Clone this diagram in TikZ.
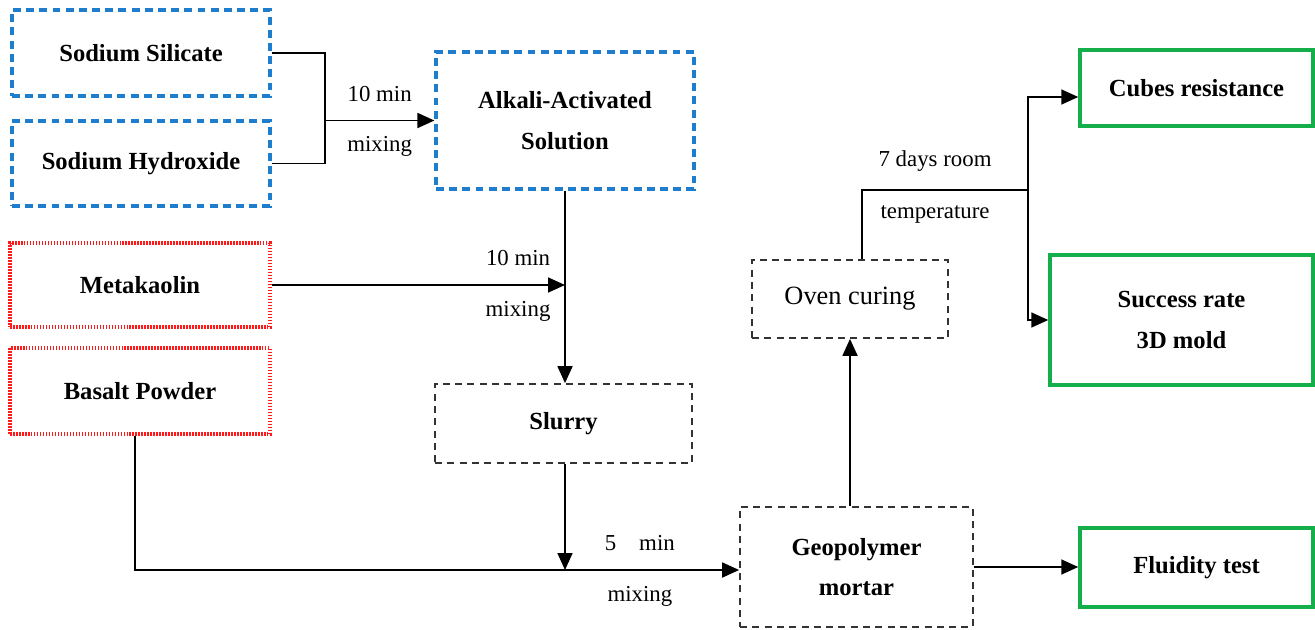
\documentclass[tikz,border=0pt]{standalone}
\usepackage{fontspec}
\setmainfont{Liberation Serif}
\usepackage{tikz}
\usetikzlibrary{arrows.meta, calc}

\definecolor{boxblue}{RGB}{30,125,205}
\definecolor{boxred}{RGB}{255,25,25}
\definecolor{boxgreen}{RGB}{20,175,75}

\tikzset{
    box/.style={draw, align=center, inner sep=0pt, font=\fontsize{14}{23}\selectfont\bfseries},
    bluebox/.style={box, boxblue, text=black, line width=1.8pt, dash pattern=on 4.5pt off 3pt},
    redbox/.style={box, boxred, text=black, line width=1.8pt, dash pattern=on 0.9pt off 0.8pt},
    greybox/.style={box, black!80, text=black, line width=1pt, dash pattern=on 4pt off 3pt},
    greenbox/.style={box, boxgreen, text=black, line width=2pt},
    arr/.style={-{Triangle[length=0.34cm,width=0.3cm]}},
    lbl/.style={inner sep=0pt, font=\fontsize{13}{15}\selectfont}
}

\begin{document}
\begin{tikzpicture}[line width=1pt]
            \useasboundingbox (0,0) rectangle (26.3,-12.58);

            \node[bluebox, minimum width=5.16cm, minimum height=1.72cm] (sil) at (2.82,-1.06) {Sodium Silicate};
            \node[bluebox, minimum width=5.16cm, minimum height=1.70cm] (hyd) at (2.82,-3.27) {Sodium Hydroxide};
            \node[bluebox, minimum width=5.16cm, minimum height=2.74cm] (aas) at (11.3,-2.41) {Alkali-Activated\\Solution};
            \node[redbox, minimum width=5.2cm, minimum height=1.68cm] (meta) at (2.8,-5.7) {Metakaolin};
            \node[redbox, minimum width=5.2cm, minimum height=1.72cm] (bas) at (2.8,-7.82) {Basalt Powder};
            \node[greybox, minimum width=5.14cm, minimum height=1.58cm] (slurry) at (11.27,-8.47) {Slurry};
            \node[greybox, minimum width=4.66cm, minimum height=2.4cm] (geo) at (17.13,-11.34) {Geopolymer\\mortar};
            \node[greybox, minimum width=3.92cm, minimum height=1.56cm, font=\fontsize{15}{17}\selectfont] (oven) at (17.0,-5.98) {Oven curing};
            \node[greenbox, minimum width=4.66cm, minimum height=1.52cm] (cubes) at (23.93,-1.76) {Cubes resistance};
            \node[greenbox, minimum width=5.26cm, minimum height=2.6cm] (succ) at (23.63,-6.4) {Success rate\\3D mold};
            \node[greenbox, minimum width=4.66cm, minimum height=1.58cm] (fluid) at (23.93,-11.35) {Fluidity test};

            \coordinate (j1) at (6.5,-2.41);
            \coordinate (j2) at (11.3,-11.4);
            \coordinate (j3) at (20.56,-3.8);
            \coordinate (j4) at (17.24,-3.8);

            \draw (sil.east) -| (j1) |- (hyd.east);
            \draw[arr] (j1) -- node[lbl, above=0.36cm]{10 min} node[lbl, below=0.3cm]{mixing} (aas.west);

            \draw[arr] (aas.south) -- (aas.south |- slurry.north);
            \draw[arr] (meta.east) -- node[lbl, pos=0.84, above=0.36cm]{10 min} node[lbl, pos=0.84, below=0.3cm]{mixing} (meta.east -| aas.south);

            \draw[arr] (slurry.south -| j2) -- (j2);
            \draw (bas.south -| 2.7,0) |- (j2);
            \draw[arr] (j2) -- node[lbl, pos=0.43, above=0.36cm]{5\quad min} node[lbl, pos=0.43, below=0.3cm]{mixing} (j2 -| geo.west);

            \draw[arr] (oven.south |- geo.north) -- (oven.south);
            \draw (oven.north -| j4) -- (j4) -- node[lbl, pos=0.44, above=0.36cm]{7 days room} node[lbl, pos=0.44, below=0.3cm]{temperature} (j3);
            \draw[arr] (j3) |- ([yshift=-0.18cm]cubes.west);
            \draw[arr] (j3) |- (succ.west);

            \draw[arr] (geo.east) -- (geo.east -| fluid.west);
        \end{tikzpicture}
\end{document}
